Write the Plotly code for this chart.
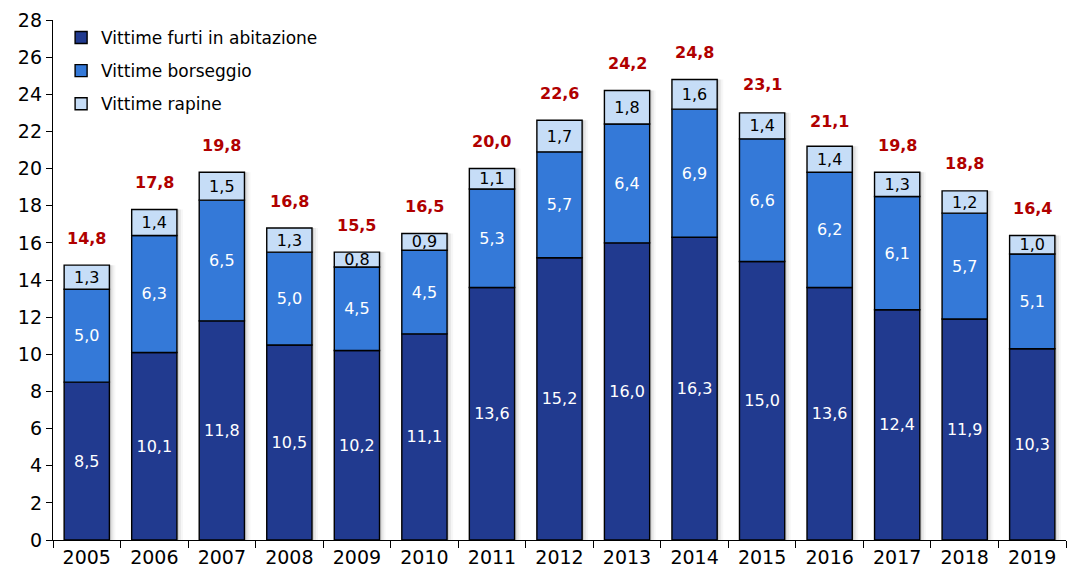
import numpy as np
import plotly.graph_objects as go

# Data (thousands of victims per year)
years = ["2005", "2006", "2007", "2008", "2009", "2010", "2011", "2012",
         "2013", "2014", "2015", "2016", "2017", "2018", "2019"]
furti_abitazione = [8.5, 10.1, 11.8, 10.5, 10.2, 11.1, 13.6, 15.2, 16.0, 16.3, 15.0, 13.6, 12.4, 11.9, 10.3]
borseggio = [5.0, 6.3, 6.5, 5.0, 4.5, 4.5, 5.3, 5.7, 6.4, 6.9, 6.6, 6.2, 6.1, 5.7, 5.1]
rapine = [1.3, 1.4, 1.5, 1.3, 0.8, 0.9, 1.1, 1.7, 1.8, 1.6, 1.4, 1.4, 1.3, 1.2, 1.0]
totali = [14.8, 17.8, 19.8, 16.8, 15.5, 16.5, 20.0, 22.6, 24.2, 24.8, 23.1, 21.1, 19.8, 18.8, 16.4]

series = [
    ("Vittime furti in abitazione", furti_abitazione, "#213a8f", "white"),
    ("Vittime borseggio", borseggio, "#3479d8", "white"),
    ("Vittime rapine", rapine, "#c6ddf7", "black"),
]

FONT = "DejaVu Sans"
BAR_W = 0.67

fig = go.Figure()

# soft drop shadow to the right of each stacked column
stack_top = np.sum([furti_abitazione, borseggio, rapine], axis=0)
for dx, alpha in [(0.03, 0.10), (0.06, 0.06), (0.09, 0.03)]:
    fig.add_trace(go.Bar(
        x=years, y=stack_top, width=BAR_W, offset=-BAR_W / 2 + dx,
        marker=dict(color=f"rgba(0,0,0,{alpha})", line=dict(width=0)),
        showlegend=False, hoverinfo="skip",
    ))

base = np.zeros(len(years))
for name, vals, color, txtcol in series:
    fig.add_trace(go.Bar(
        x=years, y=vals, base=base.copy(), name=name, width=BAR_W,
        offset=-BAR_W / 2,
        legendgroup=name,
        marker=dict(color=color, line=dict(color="black", width=1.4)),
        text=[f"{v:.1f}".replace(".", ",") for v in vals],
        textposition="inside", insidetextanchor="middle", textangle=0,
        constraintext="none",
        textfont=dict(family=FONT, size=16, color=txtcol),
    ))
    base = base + np.array(vals)

# totals above each column (x given as category index)
for i, tot in enumerate(totali):
    fig.add_annotation(
        x=i, y=tot, text="<b>" + f"{tot:.1f}".replace(".", ",") + "</b>",
        showarrow=False, yanchor="middle", yshift=27,
        font=dict(family=FONT, size=16, color="#b00000"),
    )

fig.update_layout(
    width=1069, height=586,
    barmode="overlay",
    separators=",.",
    uniformtext=dict(minsize=16, mode="show"),
    plot_bgcolor="white", paper_bgcolor="white",
    margin=dict(l=53, r=3, t=20, b=46),
    font=dict(family=FONT, size=19, color="black"),
    legend=dict(
        x=0.008, y=1.0, xanchor="left", yanchor="top",
        font=dict(family=FONT, size=17, color="black"),
        bgcolor="rgba(0,0,0,0)", traceorder="grouped", tracegroupgap=8,
        itemwidth=30,
    ),
    xaxis=dict(
        type="category", range=[-0.5, 14.5],
        showline=True, linecolor="black", linewidth=1.3,
        ticks="outside", tickson="boundaries", ticklen=7, tickcolor="black",
        tickwidth=1.3, showgrid=False, tickfont=dict(size=19),
    ),
    yaxis=dict(
        range=[0, 28], dtick=2, showline=True, linecolor="black", linewidth=1.3,
        ticks="outside", ticklen=6, tickcolor="black", tickwidth=1.3,
        showgrid=False, zeroline=False, tickfont=dict(size=19),
    ),
)

fig.write_html("out.html")
